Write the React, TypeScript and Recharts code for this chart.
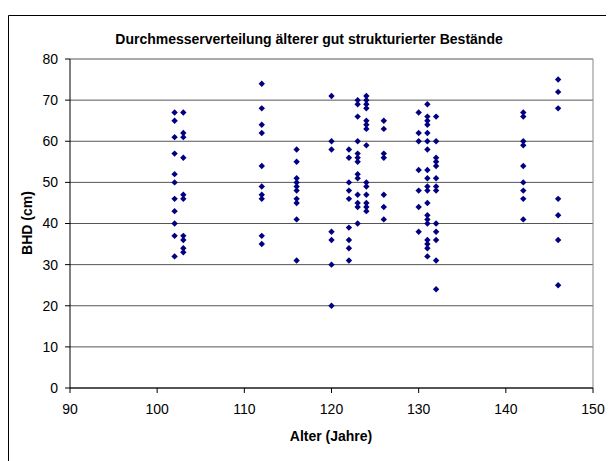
import { ScatterChart, Scatter, XAxis, YAxis, CartesianGrid, ReferenceLine } from "recharts";

const ages = [102, 103, 112, 116, 120, 122, 123, 124, 126, 130, 131, 132, 142, 146];

const diameters = [
  [67, 65, 61, 57, 52, 50, 46, 43, 40, 37, 32],
  [67, 62, 61, 56, 47, 46, 37, 36, 34, 33],
  [74, 68, 64, 62, 54, 49, 47, 46, 37, 35],
  [58, 55, 51, 50, 49, 48, 46, 45, 41, 31],
  [71, 60, 58, 38, 36, 30, 20],
  [58, 56, 50, 48, 46, 39, 36, 34, 31],
  [70, 69, 66, 60, 57, 56, 55, 52, 51, 47, 45, 44, 40],
  [71, 70, 69, 68, 65, 64, 63, 59, 50, 49, 47, 45, 44, 43],
  [65, 63, 57, 56, 47, 44, 41],
  [67, 62, 60, 53, 48, 44, 38],
  [69, 66, 65, 64, 62, 60, 58, 53, 51, 49, 48, 45, 42, 41, 40, 36, 35, 34, 32],
  [66, 60, 56, 55, 54, 51, 49, 48, 40, 38, 36, 31, 24],
  [67, 66, 60, 59, 54, 50, 48, 46, 41],
  [75, 72, 68, 46, 42, 36, 25],
];

const xTicks = [90, 100, 110, 120, 130, 140, 150];
const yTicks = [0, 10, 20, 30, 40, 50, 60, 70, 80];

const points = ages.flatMap((age, i) => diameters[i].map((d) => ({ alter: age, bhd: d })));

const font = "'Liberation Sans', Arial, sans-serif";

// small navy diamond like the Excel marker
const Diamond = (props: any) => {
  const { cx, cy } = props;
  const r = 3.2;
  return (
    <polygon
      points={`${cx},${cy - r} ${cx + r},${cy} ${cx},${cy + r} ${cx - r},${cy}`}
      fill="#000080"
    />
  );
};

export default function App() {
  return (
    <div style={{ position: "relative", width: 606, height: 453, fontFamily: font }}>
      <ScatterChart
        width={606}
        height={453}
        margin={{ top: 51, right: 21, bottom: 13, left: 0 }}
      >
        {/* chart frame: only its left and top edges are inside the picture */}
        <path d="M0.5,453 L0.5,7.5 L606,7.5" fill="none" stroke="#000" strokeWidth={1} />
        <CartesianGrid horizontal vertical={false} stroke="#555" />
        <XAxis
          type="number"
          dataKey="alter"
          domain={[90, 150]}
          ticks={xTicks}
          height={60}
          tickSize={5}
          tickMargin={11}
          stroke="#000"
          tick={{ fill: "#000", fontSize: 14, fontFamily: font }}
        />
        <YAxis
          type="number"
          dataKey="bhd"
          domain={[0, 80]}
          ticks={yTicks}
          width={62}
          tickSize={5}
          tickMargin={7}
          stroke="#000"
          tick={{ fill: "#000", fontSize: 14, fontFamily: font }}
        />
        <ReferenceLine x={150} stroke="#888" />
        <Scatter data={points} shape={Diamond} isAnimationActive={false} />
      </ScatterChart>
      <div
        style={{
          position: "absolute",
          left: 0,
          width: 602,
          top: 23,
          textAlign: "center",
          fontWeight: "bold",
          fontSize: 14,
          lineHeight: "16px",
        }}
      >
        Durchmesserverteilung älterer gut strukturierter Bestände
      </div>
      <div
        style={{
          position: "absolute",
          left: 19 - 50,
          top: 215 - 8,
          width: 100,
          textAlign: "center",
          fontWeight: "bold",
          fontSize: 14,
          transform: "rotate(-90deg)",
          lineHeight: "16px",
        }}
      >
        BHD (cm)
      </div>
      <div
        style={{
          position: "absolute",
          left: 323 - 100,
          top: 420,
          width: 200,
          textAlign: "center",
          fontWeight: "bold",
          fontSize: 14,
          lineHeight: "16px",
        }}
      >
        Alter (Jahre)
      </div>
    </div>
  );
}
